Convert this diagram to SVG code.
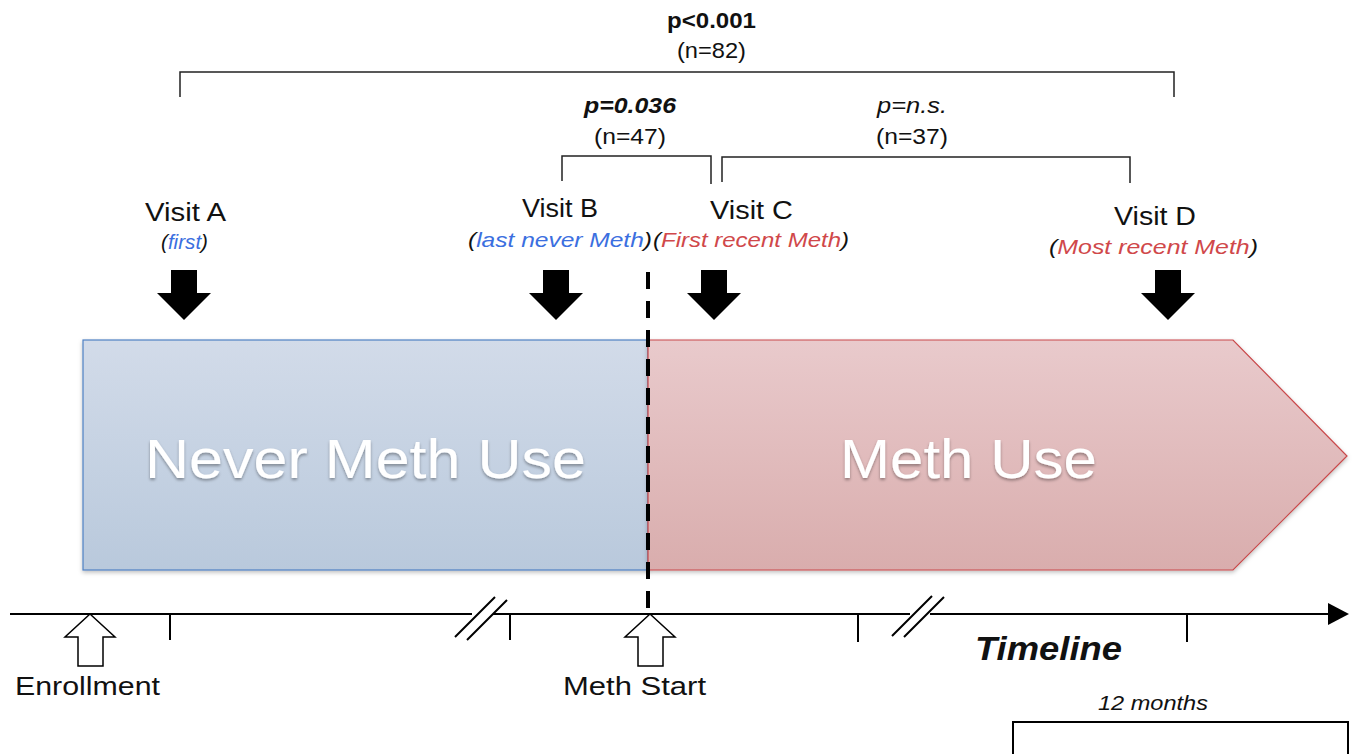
<svg xmlns="http://www.w3.org/2000/svg" width="1356" height="754" viewBox="0 0 1356 754">
<defs>
<linearGradient id="gb" x1="0" y1="0" x2="0" y2="1"><stop offset="0" stop-color="#d2dbe9"/><stop offset="1" stop-color="#b9c9dc"/></linearGradient>
<linearGradient id="gr" x1="0" y1="0" x2="0" y2="1"><stop offset="0" stop-color="#e9cacc"/><stop offset="1" stop-color="#d9adad"/></linearGradient>
<filter id="sh" x="-5%" y="-5%" width="110%" height="115%"><feDropShadow dx="0" dy="2" stdDeviation="2" flood-color="#000" flood-opacity="0.25"/></filter>
<filter id="tsh" x="-5%" y="-10%" width="110%" height="130%"><feDropShadow dx="0" dy="2" stdDeviation="1.5" flood-color="#000" flood-opacity="0.35"/></filter>
</defs>
<style>
text{font-family:"Liberation Sans",Arial,sans-serif;fill:#111}
.v{font-size:26px}
.s{font-size:21px;font-style:italic}
.bl{fill:#3b6fe0}
.rd{fill:#d0484a}
.n{font-size:22px}
.big{font-size:56px;fill:#fff}
.br{fill:none;stroke:#222;stroke-width:1.5}
.ln{fill:none;stroke:#000;stroke-width:2}
.dn{fill:#000}
.up{fill:#fff;stroke:#000;stroke-width:1.5}
</style>
<rect width="1356" height="754" fill="#fff"/>

<g id="never-meth-use">
<rect x="83" y="340" width="565" height="230" fill="url(#gb)" stroke="#4f81c4" stroke-width="1.2" filter="url(#sh)"/>
<text class="big" x="145" y="478" textLength="441" lengthAdjust="spacingAndGlyphs" filter="url(#tsh)">Never Meth Use</text>
</g>
<g id="meth-use">
<path d="M648,340 H1233 L1347,456 L1233,570 H648 Z" fill="url(#gr)" stroke="#c9484a" stroke-width="1.2" filter="url(#sh)"/>
<text class="big" x="840" y="478" textLength="257" lengthAdjust="spacingAndGlyphs" filter="url(#tsh)">Meth Use</text>
</g>

<g id="visit-a">
<text class="v" x="145" y="221" textLength="81" lengthAdjust="spacingAndGlyphs">Visit A</text>
<text class="s" x="161" y="249" textLength="47" lengthAdjust="spacingAndGlyphs">(<tspan class="bl">first</tspan>)</text>
<path class="dn" d="M171,270 H197 V293 H211 L184,320 L157,293 H171 Z"/>
</g>
<g id="visit-b">
<text class="v" x="522" y="217" textLength="76" lengthAdjust="spacingAndGlyphs">Visit B</text>
<text class="s" x="468" y="247" textLength="184" lengthAdjust="spacingAndGlyphs">(<tspan class="bl">last never Meth</tspan>)</text>
<path class="dn" d="M543,270 H569 V293 H583 L556,320 L529,293 H543 Z"/>
</g>
<g id="visit-c">
<text class="v" x="710" y="219" textLength="83" lengthAdjust="spacingAndGlyphs">Visit C</text>
<text class="s" x="653" y="247" textLength="196" lengthAdjust="spacingAndGlyphs">(<tspan class="rd">First recent Meth</tspan>)</text>
<path class="dn" d="M701,270 H727 V293 H741 L714,320 L687,293 H701 Z"/>
</g>
<g id="visit-d">
<text class="v" x="1114" y="225" textLength="82" lengthAdjust="spacingAndGlyphs">Visit D</text>
<text class="s" x="1049" y="254" textLength="209" lengthAdjust="spacingAndGlyphs">(<tspan class="rd">Most recent Meth</tspan>)</text>
<path class="dn" d="M1155,270 H1181 V293 H1195 L1168,320 L1141,293 H1155 Z"/>
</g>

<g id="stats">
<text class="n" x="667" y="28" textLength="89" lengthAdjust="spacingAndGlyphs" style="font-weight:bold">p&lt;0.001</text>
<text class="n" x="677" y="58" textLength="69" lengthAdjust="spacingAndGlyphs">(n=82)</text>
<text class="n" x="584" y="113" textLength="92" lengthAdjust="spacingAndGlyphs" style="font-weight:bold;font-style:italic">p=0.036</text>
<text class="n" x="594" y="144" textLength="72" lengthAdjust="spacingAndGlyphs">(n=47)</text>
<text class="n" x="877" y="113" textLength="70" lengthAdjust="spacingAndGlyphs" style="font-style:italic">p=n.s.</text>
<text class="n" x="876" y="144" textLength="72" lengthAdjust="spacingAndGlyphs">(n=37)</text>
</g>

<g id="connectors">
<path class="br" d="M180,97 V72 H1174 V97"/>
<path class="br" d="M562,181 V156 H711 V184"/>
<path class="br" d="M722,182 V157 H1130 V183"/>
<line x1="648" y1="272" x2="648" y2="610" stroke="#000" stroke-width="4" stroke-dasharray="17,12"/>
</g>

<g id="timeline">
<path class="ln" d="M10,614 H472 M493,614 H910 M930,614 H1330"/>
<path d="M1328,603 L1349,614 L1328,625 Z" fill="#000"/>
<path class="ln" d="M455,637 L495,597 M467,640 L507,600"/>
<path class="ln" d="M892,636 L932,596 M904,637 L944,597"/>
<path class="ln" d="M170,614 V640 M510,614 V640 M858,614 V642 M1187,614 V642"/>
<path class="up" d="M90,614 L115,637 H103 V666 H78 V637 H65 Z"/>
<path class="up" d="M650,614 L675,637 H663 V666 H638 V637 H625 Z"/>
<text x="15" y="695" textLength="145" lengthAdjust="spacingAndGlyphs" style="font-size:26px">Enrollment</text>
<text x="563" y="695" textLength="143" lengthAdjust="spacingAndGlyphs" style="font-size:26px">Meth Start</text>
<text x="975" y="660" textLength="147" lengthAdjust="spacingAndGlyphs" style="font-size:33px;font-weight:bold;font-style:italic">Timeline</text>
<text x="1098" y="710" textLength="110" lengthAdjust="spacingAndGlyphs" style="font-size:20px;font-style:italic">12 months</text>
<path class="ln" d="M1013,754 V722 H1348 V754"/>
</g>
</svg>
